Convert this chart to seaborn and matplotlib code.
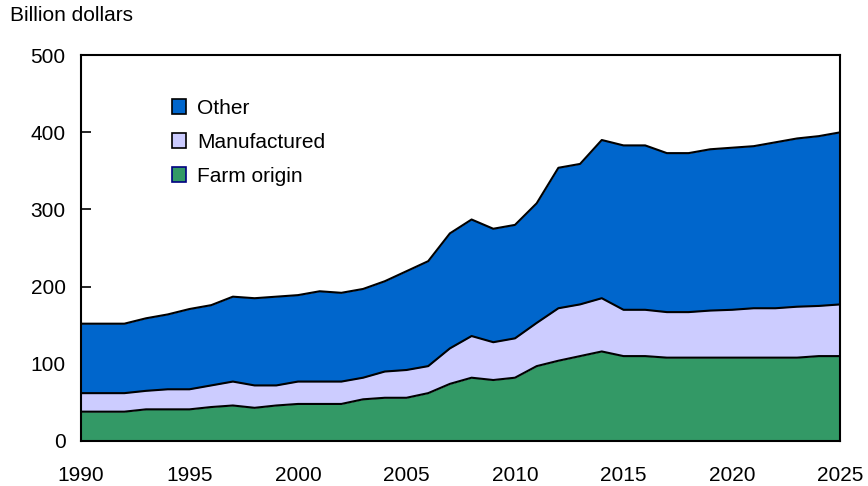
import pandas as pd
import numpy as np
import matplotlib
matplotlib.use("Agg")
import matplotlib.pyplot as plt
import seaborn as sns
from matplotlib.patches import Patch

# data (billion dollars)
years = list(range(1990, 2026))
farm = [38, 38, 38, 41, 41, 41, 44, 46, 43, 46, 48, 48, 48, 54, 56, 56, 62, 74,
        82, 79, 82, 97, 104, 110, 116, 110, 110, 108, 108, 108, 108, 108, 108, 108, 110, 110]
manuf_top = [62, 62, 62, 65, 67, 67, 72, 77, 72, 72, 77, 77, 77, 82, 90, 92, 97, 120,
             136, 128, 133, 153, 172, 177, 185, 170, 170, 167, 167, 169, 170, 172, 172, 174, 175, 177]
total = [152, 152, 152, 159, 164, 171, 176, 187, 185, 187, 189, 194, 192, 197, 207, 220, 233, 269,
         287, 275, 280, 308, 354, 359, 390, 383, 383, 373, 373, 378, 380, 382, 387, 392, 395, 400]

df = pd.DataFrame({"year": years, "farm": farm, "manuf_top": manuf_top, "total": total})

sns.set_style("white")
plt.rcParams["font.family"] = ["Liberation Sans", "DejaVu Sans"]
plt.rcParams["text.color"] = "black"

colors = {"Other": "#0066CC", "Manufactured": "#CCCCFF", "Farm origin": "#339966"}

fig = plt.figure(figsize=(8.68, 4.86), dpi=100)
ax = fig.add_axes([0.0933, 0.0926, 0.875, 0.794])

# fills
ax.fill_between(df["year"], 0, df["farm"], color=colors["Farm origin"], lw=0)
ax.fill_between(df["year"], df["farm"], df["manuf_top"], color=colors["Manufactured"], lw=0)
ax.fill_between(df["year"], df["manuf_top"], df["total"], color=colors["Other"], lw=0)

# boundary lines
for col in ["farm", "manuf_top", "total"]:
    sns.lineplot(data=df, x="year", y=col, color="black", lw=1.5, ax=ax)

ax.set_xlim(1990, 2025)
ax.set_ylim(0, 500)
ax.set_xticks(range(1990, 2026, 5))
ax.set_yticks(range(0, 501, 100))
ax.set_xlabel("")
ax.set_ylabel("")
ax.tick_params(direction="in", length=7, width=1.2, labelsize=15,
               bottom=True, left=True, colors="black", labelcolor="black")
ax.tick_params(axis="x", pad=18)
ax.tick_params(axis="y", pad=11)
for s in ax.spines.values():
    s.set_visible(True)
    s.set_color("black")
    s.set_linewidth(1.5)

fig.text(0.012, 0.969, "Billion dollars", fontsize=15, ha="left", va="center")

handles = [Patch(facecolor=colors["Other"], edgecolor="black", lw=1.2, label="Other"),
           Patch(facecolor=colors["Manufactured"], edgecolor="black", lw=1.2, label="Manufactured"),
           Patch(facecolor=colors["Farm origin"], edgecolor="#000080", lw=1.2, label="Farm origin")]
ax.legend(handles=handles, loc="upper left", bbox_to_anchor=(0.095, 0.935), frameon=False,
          fontsize=15, handlelength=0.7, handleheight=0.7, handletextpad=0.5, labelspacing=0.72)

fig.savefig("out.png", dpi=100)
